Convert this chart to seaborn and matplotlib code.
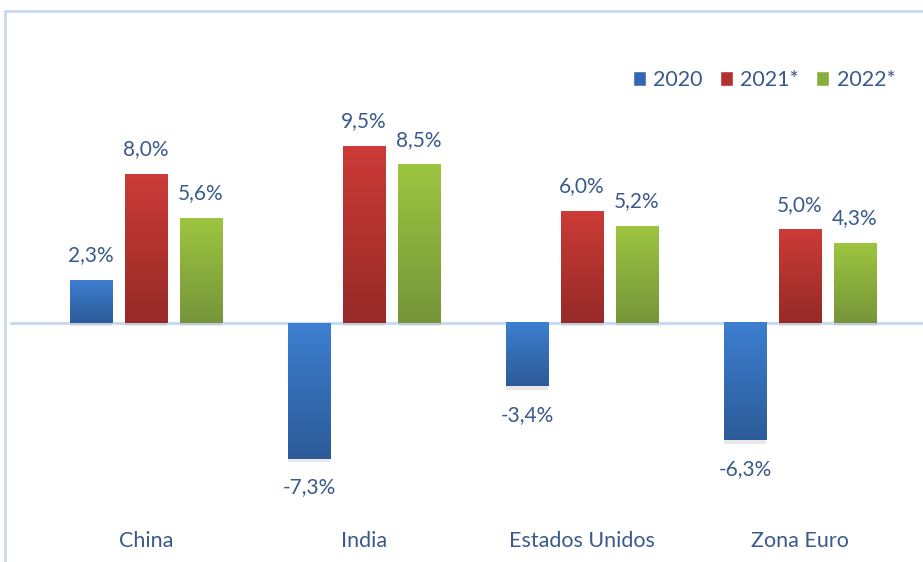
import numpy as np
import pandas as pd
import matplotlib
matplotlib.use("Agg")
import matplotlib.pyplot as plt
import matplotlib.patheffects as pe
from matplotlib.colors import to_rgba
from matplotlib.patches import Patch, Rectangle
import seaborn as sns

# Data
countries = ["China", "India", "Estados Unidos", "Zona Euro"]
years = ["2020", "2021*", "2022*"]
vals_2020 = [2.3, -7.3, -3.4, -6.3]
vals_2021 = [8.0, 9.5, 6.0, 5.0]
vals_2022 = [5.6, 8.5, 5.2, 4.3]

df = pd.DataFrame({
    "country": countries * 3,
    "year": [years[0]] * 4 + [years[1]] * 4 + [years[2]] * 4,
    "value": vals_2020 + vals_2021 + vals_2022,
})

# gradient colours (top, bottom) per series
grad = {
    "2020": ("#3D7FD1", "#2C5B98"),
    "2021*": ("#CC3B37", "#962A27"),
    "2022*": ("#9DC540", "#76953A"),
}
mid = {"2020": "#3468B4", "2021*": "#B3322F", "2022*": "#88AD3C"}
txt = "#3A5A8C"

sns.set_theme(style="white")
plt.rcParams["font.family"] = ["Lato", "DejaVu Sans"]

W, H = 923, 562
fig = plt.figure(figsize=(W / 100, H / 100), dpi=100)
# outer chart frame
fig.patches.append(Rectangle((5 / W, -0.1), 1.2, (H - 11) / H + 0.1,
                             transform=fig.transFigure, fill=False,
                             edgecolor="#C9DAF0", lw=2))
ax = fig.add_axes([10 / W, 42 / H, 913 / W, 505 / H])

sns.barplot(data=df, x="country", y="value", hue="year", order=countries,
            hue_order=years, palette=mid, width=0.757, gap=0.22,
            legend=False, ax=ax, zorder=2)

ax.axhline(0, color="#C5D8EF", lw=2, zorder=1)

# gradient fill for each bar
n = 256
for i, patch in enumerate(ax.patches):
    yr = years[i // len(countries)]
    top, bot = to_rgba(grad[yr][0]), to_rgba(grad[yr][1])
    t = np.linspace(0, 1, n)[:, None]
    img = (1 - t) * np.array(top) + t * np.array(bot)
    img = img[:, None, :]
    x0, y0 = patch.get_x(), patch.get_y()
    w, h = patch.get_width(), patch.get_height()
    ylo, yhi = min(y0, y0 + h), max(y0, y0 + h)
    patch.set_facecolor("none")
    patch.set_edgecolor("none")
    patch.set_path_effects([pe.SimplePatchShadow(offset=(0, -2.5), shadow_rgbFace="#999999", alpha=0.22),
                            pe.Normal()])
    ax.imshow(img, extent=[x0, x0 + w, ylo, yhi], aspect="auto",
              origin="upper", zorder=3, interpolation="bilinear")
    # data label
    v = df["value"].iloc[i]
    label = f"{v:.1f}%".replace(".", ",")
    if v >= 0:
        ax.annotate(label, (x0 + w / 2, yhi), xytext=(0, 11), textcoords="offset points",
                    ha="center", va="bottom", fontsize=15, color=txt, zorder=4)
    else:
        ax.annotate(label, (x0 + w / 2, ylo), xytext=(0, -13.5), textcoords="offset points",
                    ha="center", va="top", fontsize=15, color=txt, zorder=4)

ax.set_xlim(-0.624, 3.564)
ax.set_ylim(-10.59, 16.56)
ax.set_xlabel("")
ax.set_ylabel("")
ax.set_yticks([])
ax.tick_params(axis="x", length=0, pad=8, labelsize=15.5, labelcolor=txt)
for s in ax.spines.values():
    s.set_visible(False)
ax.set_facecolor("none")

handles = [Patch(facecolor=mid[y], label=y) for y in years]
leg = ax.legend(handles=handles, loc="center right",
                bbox_to_anchor=((915 - 10) / 913, 1 - (80 - 15) / 505),
                ncol=3, frameon=False, fontsize=15.5, handlelength=0.6, handleheight=0.7,
                handletextpad=0.35, columnspacing=0.8)
for t in leg.get_texts():
    t.set_color(txt)

fig.savefig("out.png", dpi=100)
